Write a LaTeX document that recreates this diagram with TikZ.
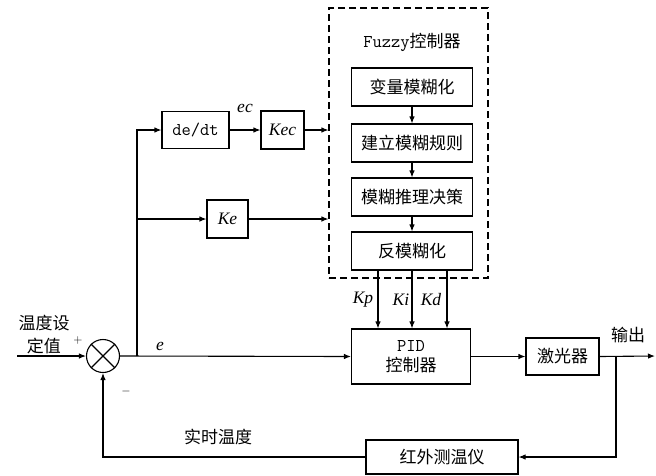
\documentclass[tikz,border=0pt]{standalone}
\usepackage{fontspec}
\newfontfamily\cjk{Noto Sans CJK SC}
\newfontfamily\tms{Liberation Serif}
\usetikzlibrary{arrows.meta}
\newcommand{\ttl}[1]{{\ttfamily\fontsize{18}{20}\selectfont #1}}
\newcommand{\itl}[1]{{\tms\itshape\fontsize{17.5}{20}\selectfont #1}}
\begin{document}
\begin{tikzpicture}[x=1pt,y=-1pt,
  every node/.style={font=\cjk\fontsize{17}{20}\selectfont},
  blk/.style={draw,line width=1.1pt,inner sep=0pt,align=center},
  lbl/.style={inner sep=0pt},
  arr/.style={-{Latex[length=7pt,width=5.5pt]},line width=1.1pt},
  ln/.style={line width=1.1pt}]
\useasboundingbox (0,0) rectangle (656,475);
% fuzzy box
\node[draw,line width=1.1pt,dash pattern=on 7pt off 4pt,minimum width=159pt,minimum height=270pt,inner sep=0pt] (fz) at (408.5,143) {};
\node[lbl] (ftitle) at (412,42) {\ttl{Fuzzy}控制器};
\node[blk,minimum width=121pt,minimum height=38pt] (f1) at (412,87) {变量模糊化};
\node[blk,minimum width=121pt,minimum height=38pt] (f2) at (412,143) {建立模糊规则};
\node[blk,minimum width=121pt,minimum height=38pt] (f3) at (412,197) {模糊推理决策};
\node[blk,minimum width=121pt,minimum height=38pt] (f4) at (412,251) {反模糊化};
\draw[arr] (f1) -- (f2);
\draw[arr] (f2) -- (f3);
\draw[arr] (f3) -- (f4);
% left blocks
\node[blk,minimum width=67pt,minimum height=37pt] (dedt) at (195.5,130) {\ttl{de/dt}};
\node[blk,minimum width=43pt,minimum height=38pt] (kec) at (282.5,130) {\itl{Kec}};
\node[blk,minimum width=41pt,minimum height=38pt] (ke) at (227.5,219) {\itl{Ke}};
% summing junction
\node[draw,circle,line width=1.1pt,minimum size=33pt,inner sep=0pt] (sum) at (103,356) {};
\draw[ln] (sum.north west) -- (sum.south east);
\draw[ln] (sum.north east) -- (sum.south west);
% PID etc.
\node[blk,minimum width=119pt,minimum height=55pt] (pid) at (411,356.5) {\ttl{PID}\\控制器};
\node[blk,minimum width=73pt,minimum height=37pt] (las) at (562.5,356.5) {激光器};
\node[blk,minimum width=152pt,minimum height=34pt] (ir) at (442,457) {红外测温仪};
% coordinates
\coordinate (in) at (17,356);
\coordinate (br) at (137,356);
\coordinate (kp) at (378,300);
\coordinate (ki) at (412,300);
\coordinate (kd) at (447,300);
\coordinate (tap) at (616,356);
\coordinate (out) at (655,356);
% connectors
\draw[arr] (in) -- (sum.west);
\draw[arr] (sum.east) -- (pid.west);
\draw[arr] (br) |- (dedt.west);
\draw[arr] (br) |- (ke.west);
\draw[arr] (dedt.east) -- (kec.west);
\draw[arr] (kec.east) -- (kec.east -| fz.west);
\draw[arr] (ke.east) -- (ke.east -| fz.west);
\draw[arr] (f4.south -| kp) -- (pid.north -| kp);
\draw[arr] (f4.south -| ki) -- (pid.north -| ki);
\draw[arr] (f4.south -| kd) -- (pid.north -| kd);
\draw[arr] (pid.east) -- (las.west);
\draw[arr] (las.east) -- (out);
\draw[arr] (tap) |- (ir.east);
\draw[arr] (ir.west) -| (sum.south);
% labels
\node[lbl] at (363,300) {\itl{Kp}};
\node[lbl] at (401,300) {\itl{Ki}};
\node[lbl] at (431,300) {\itl{Kd}};
\node[lbl] at (245,108) {\itl{ec}};
\node[lbl] at (160,346) {\itl{e}};
\node[lbl,font=\fontsize{13}{15}\selectfont] at (78,340) {$+$};
\node[lbl,font=\fontsize{13}{15}\selectfont] at (126,391) {$-$};
\node[lbl] at (44,323) {温度设};
\node[lbl] at (44,346) {定值};
\node[lbl] at (218,437) {实时温度};
\node[lbl] at (628,335) {输出};
\end{tikzpicture}
\end{document}
